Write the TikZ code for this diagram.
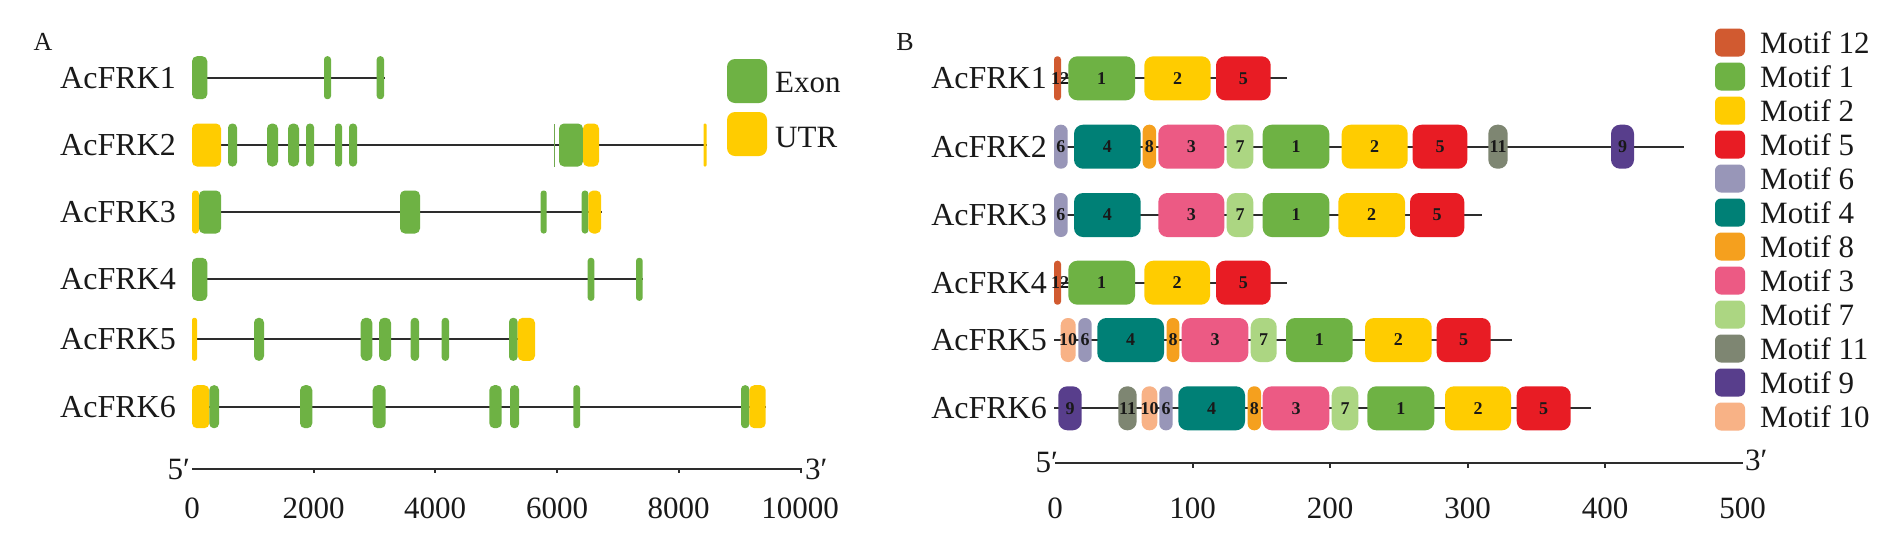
\documentclass[tikz,border=0pt]{standalone}
\usepackage{fontspec}
\setmainfont{Liberation Serif}
\definecolor{exon}{RGB}{110,178,68}
\definecolor{utr}{RGB}{255,204,0}
\definecolor{mA}{RGB}{209,90,48}   % motif 12
\definecolor{mB}{RGB}{110,178,68}  % motif 1
\definecolor{mC}{RGB}{255,204,0}   % motif 2
\definecolor{mD}{RGB}{232,28,36}   % motif 5
\definecolor{mE}{RGB}{152,150,184} % motif 6
\definecolor{mF}{RGB}{0,128,118}   % motif 4
\definecolor{mG}{RGB}{245,160,30}  % motif 8
\definecolor{mH}{RGB}{236,90,132}  % motif 3
\definecolor{mI}{RGB}{172,214,130} % motif 7
\definecolor{mJ}{RGB}{126,134,114} % motif 11
\definecolor{mK}{RGB}{88,62,140}   % motif 9
\definecolor{mL}{RGB}{248,178,134} % motif 10
\definecolor{linec}{RGB}{45,45,45}
\definecolor{txt}{RGB}{25,25,25}
\newcounter{nc}
\tikzset{
  gl/.style={draw=linec, line width=1.8pt},
  axl/.style={draw=linec, line width=2pt},
  lab/.style={font=\fontsize{32}{32}\selectfont, anchor=east, inner sep=0pt, text=txt},
  leg/.style={font=\fontsize{31}{31}\selectfont, anchor=west, inner sep=0pt, text=txt},
  tlab/.style={font=\fontsize{31}{31}\selectfont, inner sep=0pt, text=txt},
  plab/.style={font=\fontsize{26}{26}\selectfont, inner sep=0pt, text=txt},
  mlab/.style={font=\fontsize{18}{18}\selectfont\bfseries, inner sep=0pt, text=txt},
}
% gene line: name, x1, x2
\newcommand\gln[3]{\coordinate (s#1) at (#2,\ry); \coordinate (e#1) at (#3,\ry); \draw[gl] (s#1) -- (e#1);}
% exon / UTR box: x1, x2, colour
\newcommand\gex[3]{\pgfmathsetmacro\rad{min(5,(#2-#1)/2-0.3)}%
  \fill[#3, rounded corners=\rad pt] (#1,\ry-21.5) rectangle (#2,\ry+21.5);}
% motif box: x1, x2, colour, label
\newcommand\mtf[4]{\pgfmathsetmacro\rad{min(9,(#2-#1)/2-0.3)}%
  \fill[#3, rounded corners=\rad pt] (#1,\ry-22) rectangle (#2,\ry+22);
  \stepcounter{nc}\node[mlab] (m\arabic{nc}) at ({(#1+#2)/2},\ry) {#4};}
% legend entry B: y, colour, text
\newcommand\lgb[3]{\fill[#2, rounded corners=6pt] (1715,#1-14) rectangle (1745,#1+14);
  \stepcounter{nc}\node[leg] (l\arabic{nc}) at (1760,#1) {#3};}
\begin{document}
\begin{tikzpicture}[x=1pt,y=-1pt]
\useasboundingbox (0,0) rectangle (1902,550);
\fill[white] (0,0) rectangle (1902,550);

% ---------------- Panel A ----------------
\node[plab] (pA) at (43,42) {A};

\def\ry{77.7}
\node[lab] (a1) at (176,\ry) {AcFRK1};
\gln{a1}{192}{385}
\gex{192}{207.3}{exon}\gex{324}{331}{exon}\gex{376.7}{384}{exon}

\def\ry{145}
\node[lab] (a2) at (176,\ry) {AcFRK2};
\gln{a2}{192}{707}
\gex{192}{221}{utr}
\gex{228}{237}{exon}\gex{267}{278}{exon}\gex{288}{299}{exon}\gex{306}{314}{exon}
\gex{335}{342}{exon}\gex{349}{357}{exon}
\fill[exon!80!gray] (553.7,\ry-21.5) rectangle (555,\ry+21.5);
\gex{559}{583}{exon}\gex{583}{599}{utr}\gex{703.5}{706.5}{utr}

\def\ry{212}
\node[lab] (a3) at (176,\ry) {AcFRK3};
\gln{a3}{192}{602}
\gex{192}{199}{utr}\gex{199}{221}{exon}\gex{400}{420}{exon}
\gex{540.7}{546.7}{exon}\gex{581.7}{588.3}{exon}\gex{588.3}{601}{utr}

\def\ry{279.3}
\node[lab] (a4) at (176,\ry) {AcFRK4};
\gln{a4}{192}{642.7}
\gex{192}{207.3}{exon}\gex{587.7}{594.3}{exon}\gex{636}{642.7}{exon}

\def\ry{339.3}
\node[lab] (a5) at (176,\ry) {AcFRK5};
\gln{a5}{192}{535}
\gex{192}{197}{utr}\gex{254}{264}{exon}\gex{360.7}{372.3}{exon}\gex{379}{391}{exon}
\gex{410.7}{419}{exon}\gex{441.7}{449}{exon}\gex{509}{517.7}{exon}\gex{517.7}{535}{utr}

\def\ry{406.7}
\node[lab] (a6) at (176,\ry) {AcFRK6};
\gln{a6}{192}{765.7}
\gex{192}{209.3}{utr}\gex{209.3}{219}{exon}\gex{300}{312.3}{exon}\gex{372.7}{385.7}{exon}
\gex{489.3}{501.7}{exon}\gex{510}{519}{exon}\gex{573.3}{580}{exon}
\gex{741}{749.3}{exon}\gex{749.3}{765.7}{utr}

% legend A
\fill[exon, rounded corners=8pt] (727,59) rectangle (767,103);
\node[leg] (lexon) at (775,82.5) {Exon};
\fill[utr, rounded corners=8pt] (727,112) rectangle (767,156);
\node[leg] (lutr) at (775,137.5) {UTR};

% axis A
\coordinate (ax0) at (192,469);
\coordinate (ax1) at (801.7,469);
\draw[axl] (ax0) -- (ax1);
\foreach \t in {313.5,435,557,678.5,801}{\draw[axl] (\t,469) -- (\t,473);}
\node[tlab, anchor=east] (a5p) at (190,469) {5′};
\node[tlab, anchor=west] (a3p) at (805,469) {3′};
\node[tlab] (t0) at (192,508) {0};
\node[tlab] (t1) at (313.5,508) {2000};
\node[tlab] (t2) at (435,508) {4000};
\node[tlab] (t3) at (557,508) {6000};
\node[tlab] (t4) at (678.5,508) {8000};
\node[tlab] (t5) at (800,508) {10000};

% ---------------- Panel B ----------------
\node[plab] (pB) at (905,42) {B};

\def\ry{78.3}
\node[lab] (b1) at (1047,\ry) {AcFRK1};
\gln{b1}{1054}{1286.7}
\mtf{1054}{1061}{mA}{}\node[mlab] (b1l) at (1060,\ry) {12};
\mtf{1068.3}{1135}{mB}{1}\mtf{1144.3}{1210.7}{mC}{2}\mtf{1216}{1270.7}{mD}{5}

\def\ry{146.7}
\node[lab] (b2) at (1047,\ry) {AcFRK2};
\gln{b2}{1054}{1684.3}
\mtf{1054}{1067.7}{mE}{6}\mtf{1074}{1140.7}{mF}{4}\mtf{1142.7}{1156}{mG}{8}
\mtf{1158.3}{1224.3}{mH}{3}\mtf{1226.7}{1253.3}{mI}{7}\mtf{1262.7}{1329.3}{mB}{1}
\mtf{1341.7}{1407.7}{mC}{2}\mtf{1412.7}{1467.3}{mD}{5}\mtf{1488.3}{1507.7}{mJ}{11}
\mtf{1611}{1634}{mK}{9}

\def\ry{215}
\node[lab] (b3) at (1047,\ry) {AcFRK3};
\gln{b3}{1054}{1481.7}
\mtf{1054}{1067.7}{mE}{6}\mtf{1074}{1140.7}{mF}{4}
\mtf{1158.3}{1224.3}{mH}{3}\mtf{1226.7}{1253.3}{mI}{7}\mtf{1262.7}{1329.3}{mB}{1}
\mtf{1338.3}{1405}{mC}{2}\mtf{1410}{1464.3}{mD}{5}

\def\ry{282.7}
\node[lab] (b4) at (1047,\ry) {AcFRK4};
\gln{b4}{1054}{1287.3}
\mtf{1054}{1061}{mA}{}\node[mlab] (b4l) at (1060,\ry) {12};
\mtf{1068.3}{1135}{mB}{1}\mtf{1144.3}{1210}{mC}{2}\mtf{1216}{1270.7}{mD}{5}

\def\ry{340}
\node[lab] (b5) at (1047,\ry) {AcFRK5};
\gln{b5}{1054}{1512.3}
\mtf{1060.7}{1075.7}{mL}{10}\mtf{1078.3}{1091.7}{mE}{6}\mtf{1097.3}{1164}{mF}{4}
\mtf{1166.7}{1179.3}{mG}{8}\mtf{1181.7}{1248.3}{mH}{3}\mtf{1250.7}{1276.7}{mI}{7}
\mtf{1286}{1352.7}{mB}{1}\mtf{1365}{1431.7}{mC}{2}\mtf{1436.7}{1490.7}{mD}{5}

\def\ry{408.3}
\node[lab] (b6) at (1047,\ry) {AcFRK6};
\gln{b6}{1054}{1590.7}
\mtf{1058.3}{1081.7}{mK}{9}\mtf{1118.3}{1136.7}{mJ}{11}\mtf{1141.7}{1157.3}{mL}{10}
\mtf{1159.3}{1172.7}{mE}{6}\mtf{1178.3}{1245}{mF}{4}\mtf{1247.7}{1261}{mG}{8}
\mtf{1262.7}{1329.3}{mH}{3}\mtf{1331.7}{1358.3}{mI}{7}\mtf{1367.3}{1434.3}{mB}{1}
\mtf{1445}{1511}{mC}{2}\mtf{1516.7}{1570.7}{mD}{5}

% legend B
\lgb{42.5}{mA}{Motif 12}
\lgb{76.5}{mB}{Motif 1}
\lgb{110.5}{mC}{Motif 2}
\lgb{144.5}{mD}{Motif 5}
\lgb{178.5}{mE}{Motif 6}
\lgb{212.5}{mF}{Motif 4}
\lgb{246.5}{mG}{Motif 8}
\lgb{280.5}{mH}{Motif 3}
\lgb{314.5}{mI}{Motif 7}
\lgb{348.5}{mJ}{Motif 11}
\lgb{382.5}{mK}{Motif 9}
\lgb{416.5}{mL}{Motif 10}

% axis B
\coordinate (bx0) at (1055,463.3);
\coordinate (bx1) at (1743,463.3);
\draw[axl] (bx0) -- (bx1);
\foreach \t in {1192.5,1330,1467.5,1605}{\draw[axl] (\t,463.3) -- (\t,467.5);}
\node[tlab, anchor=east] (b5p) at (1058,462) {5′};
\node[tlab, anchor=west] (b3p) at (1745,460) {3′};
\node[tlab] (u0) at (1055,508) {0};
\node[tlab] (u1) at (1192.5,508) {100};
\node[tlab] (u2) at (1330,508) {200};
\node[tlab] (u3) at (1467.5,508) {300};
\node[tlab] (u4) at (1605,508) {400};
\node[tlab] (u5) at (1742.5,508) {500};
\end{tikzpicture}
\end{document}
